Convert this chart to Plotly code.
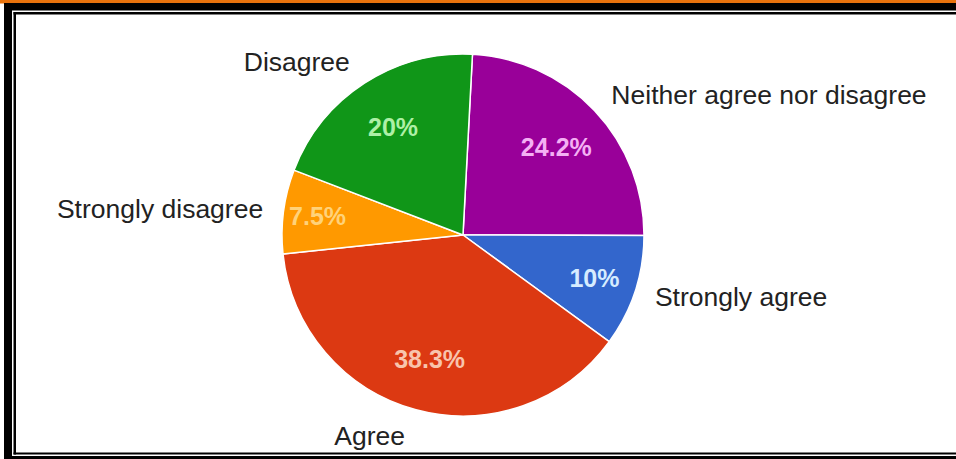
import plotly.graph_objects as go

labels = ["Neither agree nor disagree", "Strongly agree", "Agree", "Strongly disagree", "Disagree"]
values = [24.2, 10.0, 38.3, 7.5, 20.0]
slice_colors = ["#990099", "#3366cc", "#dc3912", "#ff9900", "#109618"]
pct_text_colors = ["#f4b0f4", "#d6ecff", "#f8c4ac", "#ffd27a", "#aef0a6"]
pct_texts = ["24.2%", "10%", "38.3%", "7.5%", "20%"]

W, H = 956, 459
CX, CY = 463, 235        # pie centre in pixels (layout only)
R_PIE, R_LBL = 181, 194  # radii of coloured pie and label ring
FONT = "Liberation Sans, Arial, sans-serif"


def dom(r):
    return dict(x=[(CX - r) / W, (CX + r) / W],
                y=[1 - (CY + r) / H, 1 - (CY - r) / H])


fig = go.Figure()

# coloured pie
fig.add_trace(go.Pie(
    labels=labels, values=values, sort=False, direction="clockwise", rotation=3,
    marker=dict(colors=slice_colors, line=dict(color="white", width=1.5)),
    textinfo="none", showlegend=False, hoverinfo="label+percent",
    domain=dom(R_PIE),
))

# transparent ring carrying the percentage labels inside the slices
fig.add_trace(go.Pie(
    labels=labels, values=values, sort=False, direction="clockwise", rotation=3,
    hole=0.42,
    marker=dict(colors=["rgba(0,0,0,0)"] * len(values), line=dict(width=0)),
    text=pct_texts, textinfo="text", textposition="inside",
    insidetextorientation="horizontal",
    insidetextfont=dict(family=FONT, size=25, color=pct_text_colors, weight="bold"),
    showlegend=False, hoverinfo="skip",
    domain=dom(R_PIE),
))

# transparent overlay pie carrying the category labels outside
fig.add_trace(go.Pie(
    labels=labels, values=values, sort=False, direction="clockwise", rotation=3,
    marker=dict(colors=["rgba(0,0,0,0)"] * len(values), line=dict(width=0)),
    textinfo="label", textposition="outside",
    outsidetextfont=dict(family=FONT, size=26.5, color="#222222"),
    showlegend=False, hoverinfo="skip",
    domain=dom(R_LBL),
))


def px(x0, y0, x1, y1, color):
    return dict(type="rect", xref="paper", yref="paper",
                x0=x0 / W, x1=x1 / W, y0=1 - y1 / H, y1=1 - y0 / H,
                fillcolor=color, line=dict(width=0), layer="above")


shapes = [
    px(0, 0, W, 3.5, "#e8720c"),         # orange top strip
    px(4, 3, W, 10.5, "#000000"),        # thick top band
    px(13.5, 12, W, 14.5, "#000000"),    # thin top line
    px(4, 3, 12, H, "#000000"),          # thick left band
    px(13.5, 12, 16, 454.5, "#000000"),  # thin left line
    px(13.5, 452.5, W, 454.5, "#000000"),  # thin bottom line
    px(4, 456, W, H, "#000000"),         # thick bottom band
]

fig.update_layout(
    width=W, height=H,
    margin=dict(l=0, r=0, t=0, b=0, pad=0, autoexpand=False),
    paper_bgcolor="white", plot_bgcolor="white",
    shapes=shapes,
    font=dict(family=FONT),
)

fig.write_html(
    "out.html",
    config={"displayModeBar": False},
    post_script="document.body.style.margin='0';document.body.style.overflow='hidden';",
)
